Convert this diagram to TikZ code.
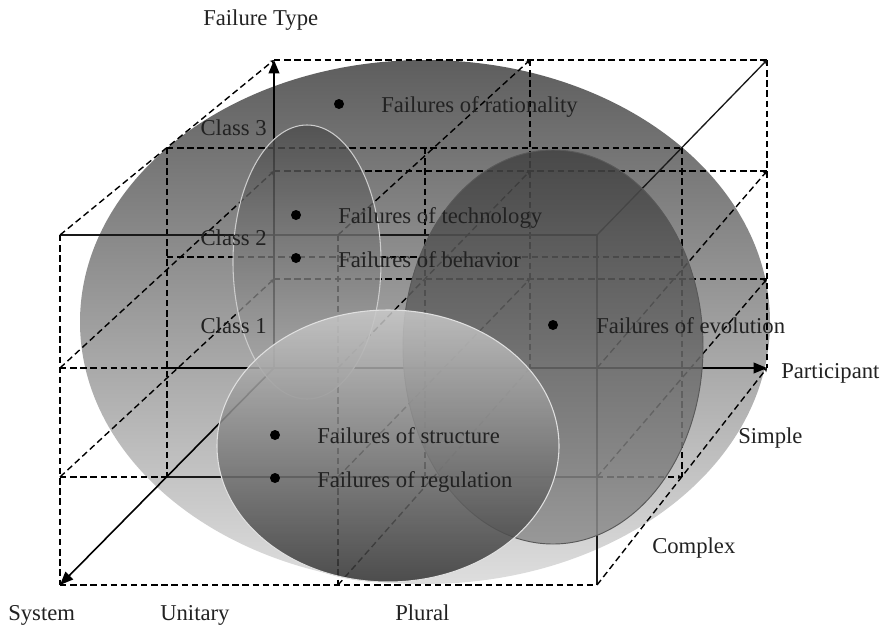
\documentclass[tikz,border=0pt]{standalone}
\usepackage{fontspec}
\setmainfont{Liberation Serif}
\usetikzlibrary{arrows.meta}
\definecolor{bigtop}{HTML}{5E5E5E}
\definecolor{bigbot}{HTML}{DEDEDE}
\definecolor{techtop}{HTML}{4B4B4B}
\definecolor{techbot}{HTML}{B0B0B0}
\definecolor{evotop}{HTML}{424242}
\definecolor{evobot}{HTML}{8E8E8E}
\definecolor{strtop}{HTML}{CACACA}
\definecolor{strbot}{HTML}{343434}
\definecolor{txt}{HTML}{222222}
\begin{document}
\begin{tikzpicture}[x=0.75pt,y=-0.75pt,
  grid/.style={black, line width=1.05pt, dash pattern=on 4.8pt off 2.8pt},
  gridtip/.style={grid, -{Stealth[length=3pt,width=3pt]}},
  solidline/.style={black!90, line width=1pt},
  axis/.style={black, line width=1.2pt, -{Triangle[length=10pt,width=8pt]}},
  lbl/.style={font=\fontsize{17}{19}\selectfont, text=txt, inner sep=0pt, anchor=base west},
  dot/.style={circle, fill=black, inner sep=0pt, minimum size=7.5pt},
]
\useasboundingbox (0,0) rectangle (889,626);
% grid corners: back (B), middle (M), front (F); first index = column, second = level
\foreach \i/\x in {0/274,1/530,2/767}{\foreach \j/\y in {0/60,1/171,2/279,3/368}{\coordinate (B\i\j) at (\x,\y);}}
\foreach \i/\x in {0/167,1/425,2/682}{\foreach \j/\y in {0/148,1/257,2/368,3/477}{\coordinate (M\i\j) at (\x,\y);}}
\foreach \i/\x in {0/60,1/338,2/597}{\foreach \j/\y in {0/235,1/368,2/477,3/585}{\coordinate (F\i\j) at (\x,\y);}}
% outer ellipse
\shade[top color=bigtop, bottom color=bigbot] (425,322) ellipse [x radius=345, y radius=262];
% back face
\draw[grid] (B00) -- (B20);
\draw[grid] (B01) -- (B21);
\draw[grid] (B02) -- (B22);
\draw[grid] (B10) -- (B13);
\draw[grid] (B20) -- (B23);
% middle plane
\draw[grid] (M00) -- (M20);
\draw[grid] (M01) -- (M21);
\draw[grid] (M00) -- (M03);
\draw[grid] (M10) -- (M13);
\draw[grid] (M20) -- (M23);
\draw[gridtip] (F22) -- (M23);
% front face
\draw[grid] (F00) -- (F03);
\draw[grid] (F10) -- (F13);
\draw[grid] (F03) -- (F23);
\draw[grid] (F01) -- (M02);
\draw[grid] (F02) -- (M03);
\draw[solidline] (F00) -- (F20);
\draw[solidline] (F20) -- (F23);
\draw[solidline] (M03) -- (F22);
% depth lines
\draw[gridtip] (F00) -- (B00);
\draw[gridtip] (F01) -- (B01);
\draw[gridtip] (F02) -- (B02);
\draw[gridtip] (F10) -- (B10);
\draw[gridtip] (F11) -- (B11);
\draw[gridtip] (F12) -- (B12);
\draw[gridtip] (F13) -- (B13);
\draw[solidline, -{Stealth[length=3pt,width=3pt]}] (F20) -- (B20);
\draw[gridtip] (F21) -- (B21);
\draw[gridtip] (F22) -- (B22);
\draw[gridtip] (F23) -- (B23);
% axes
\draw[axis] (B03) -- (B00);
\draw[axis] (M02) -- (B23);
\draw[axis] (B03) -- (F03);
% inner ellipses
\shade[top color=techtop, bottom color=techbot, opacity=0.75] (307,262) ellipse [x radius=74, y radius=137];
\draw[white!80!black, line width=0.8pt] (307,262) ellipse [x radius=74, y radius=137];
\shade[top color=evotop, bottom color=evobot, opacity=0.85] (553,347) ellipse [x radius=150, y radius=197];
\draw[black!65, line width=0.7pt] (553,347) ellipse [x radius=150, y radius=197];
\shade[top color=strtop, bottom color=strbot, opacity=0.85] (388,446) ellipse [x radius=171, y radius=136];
\draw[white!88!black, line width=0.8pt] (388,446) ellipse [x radius=171, y radius=136];
% failure dots and labels
\node[dot] (drat) at (339,104) {};
\node[lbl] (trat) at (381,112) {Failures of rationality};
\node[dot] (dtec) at (296,215) {};
\node[lbl] (ttec) at (338,223) {Failures of technology};
\node[dot] (dbeh) at (296,258) {};
\node[lbl] (tbeh) at (338,267) {Failures of behavior};
\node[dot] (devo) at (553,325) {};
\node[lbl] (tevo) at (596,333) {Failures of evolution};
\node[dot] (dstr) at (275,435) {};
\node[lbl] (tstr) at (317,443) {Failures of structure};
\node[dot] (dreg) at (275,478) {};
\node[lbl] (treg) at (317,487) {Failures of regulation};
% axis and class labels
\node[lbl] (lft) at (203,25) {Failure Type};
\node[lbl, anchor=base east] (lc3) at (267,135) {Class 3};
\node[lbl, anchor=base east] (lc2) at (267,245) {Class 2};
\node[lbl, anchor=base east] (lc1) at (267,333) {Class 1};
\node[lbl] (lpart) at (781,378) {Participant};
\node[lbl] (lsimp) at (738,443) {Simple};
\node[lbl] (lcomp) at (652,553) {Complex};
\node[lbl] (lsys) at (8,620) {System};
\node[lbl] (luni) at (160,620) {Unitary};
\node[lbl] (lplu) at (395,620) {Plural};
\end{tikzpicture}
\end{document}
